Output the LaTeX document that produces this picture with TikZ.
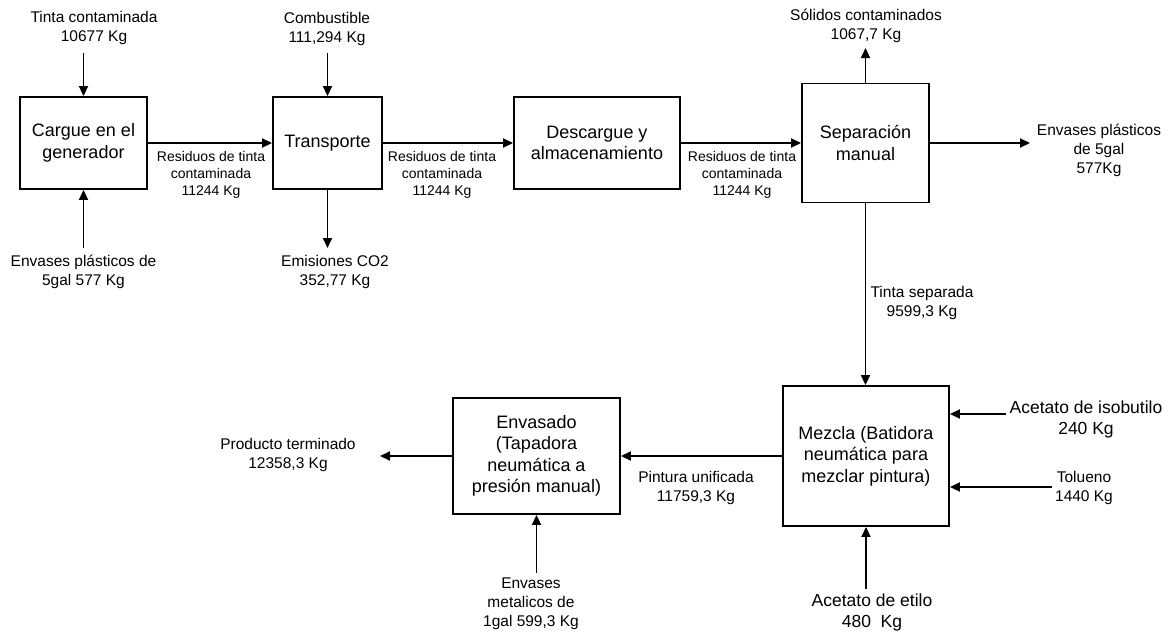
\documentclass[tikz,border=0pt]{standalone}
\usepackage{fontspec}
\setmainfont{Liberation Sans}
\usetikzlibrary{arrows.meta,calc}
\begin{document}
\begin{tikzpicture}[x=1pt,y=-1pt,
  boxnode/.style={draw=black,line width=1.9pt,inner sep=0pt,align=center,font=\fontsize{18}{21.5}\selectfont},
  iolabel/.style={align=center,inner sep=0pt,font=\fontsize{15.5}{19}\selectfont},
  biglabel/.style={align=center,inner sep=0pt,font=\fontsize{17.5}{21}\selectfont},
  flowlabel/.style={align=center,inner sep=0pt,font=\fontsize{14}{17}\selectfont},
  arr/.style={line width=1.9pt,-{Triangle[length=10pt,width=9pt]}}]
\fill[white] (0,0) rectangle (1168,632);
\useasboundingbox (0,0) rectangle (1168,632);
% boxes
\node[boxnode,minimum width=127,minimum height=92] (b1) at (83.5,143) {Cargue en el\\generador};
\node[boxnode,minimum width=109,minimum height=92] (b2) at (327.5,143) {Transporte};
\node[boxnode,minimum width=166,minimum height=92] (b3) at (597,143) {Descargue y\\almacenamiento};
\node[boxnode,minimum width=127,minimum height=119] (b4) at (865.5,143) {Separación\\manual};
\node[boxnode,minimum width=166,minimum height=140] (b5) at (866,456) {Mezcla (Batidora\\neumática para\\mezclar pintura)};
\node[boxnode,minimum width=167,minimum height=116] (b6) at (536.5,456) {Envasado\\(Tapadora\\neumática a\\presión manual)};
% input / output labels
\node[iolabel] (tinta) at (94,27.5) {Tinta contaminada\\10677 Kg};
\node[iolabel] (comb) at (327,28.5) {Combustible\\111,294 Kg};
\node[iolabel] (envp) at (83.5,271.5) {Envases plásticos de\\5gal 577 Kg};
\node[iolabel] (emis) at (335,271.5) {Emisiones CO2\\352,77 Kg};
\node[iolabel] (solid) at (866,26) {Sólidos contaminados\\1067,7 Kg};
\node[iolabel] (envr) at (1099,150) {Envases plásticos\\de 5gal\\577Kg};
\node[iolabel] (tsep) at (922,302.5) {Tinta separada\\9599,3 Kg};
\node[biglabel] (isob) at (1086,419.5) {Acetato de isobutilo\\240 Kg};
\node[iolabel] (tolu) at (1084,487.5) {Tolueno\\1440 Kg};
\node[biglabel] (etil) at (872,612.5) {Acetato de etilo\\480~~Kg};
\node[iolabel] (met) at (531,604) {Envases\\metalicos de\\1gal 599,3 Kg};
\node[iolabel] (prod) at (288,455) {Producto terminado\\12358,3 Kg};
% flow labels
\node[flowlabel] (r1) at (211,175) {Residuos de tinta\\contaminada\\11244 Kg};
\node[flowlabel] (r2) at (442,175) {Residuos de tinta\\contaminada\\11244 Kg};
\node[flowlabel] (r3) at (742,175) {Residuos de tinta\\contaminada\\11244 Kg};
\node[iolabel] (pint) at (696,487.5) {Pintura unificada\\11759,3 Kg};
% free arrow ends
\coordinate (cTinta) at (83.5,53);
\coordinate (cComb) at (327.5,53);
\coordinate (cEnvp) at (83.5,248);
\coordinate (cEmis) at (327.5,248);
\coordinate (cSolid) at (865.5,48);
\coordinate (cEnvr) at (1030,143);
\coordinate (cIsob) at (1006,414);
\coordinate (cTolu) at (1052,487);
\coordinate (cEtil) at (866,589);
\coordinate (cProd) at (380,456);
\coordinate (cMet) at (536.5,573);
% connectors
\draw[arr] (cTinta) -- (b1.north);
\draw[arr] (cEnvp) -- (b1.south);
\draw[arr] (cComb) -- (b2.north);
\draw[arr] (b2.south) -- (cEmis);
\draw[arr] (b1.east) -- (b2.west);
\draw[arr] (b2.east) -- (b3.west);
\draw[arr] (b3.east) -- (b3.east -| b4.west);
\draw[arr] (b4.north) -- (cSolid);
\draw[arr] (b4.east) -- (cEnvr);
\draw[arr] (b4.south) -- (b4.south |- b5.north);
\draw[arr] (cIsob) -- (cIsob -| b5.east);
\draw[arr] (cTolu) -- (cTolu -| b5.east);
\draw[arr] (cEtil) -- (b5.south);
\draw[arr] (b5.west) -- (b6.east);
\draw[arr] (b6.west) -- (cProd);
\draw[arr] (cMet) -- (b6.south);
\end{tikzpicture}
\end{document}
